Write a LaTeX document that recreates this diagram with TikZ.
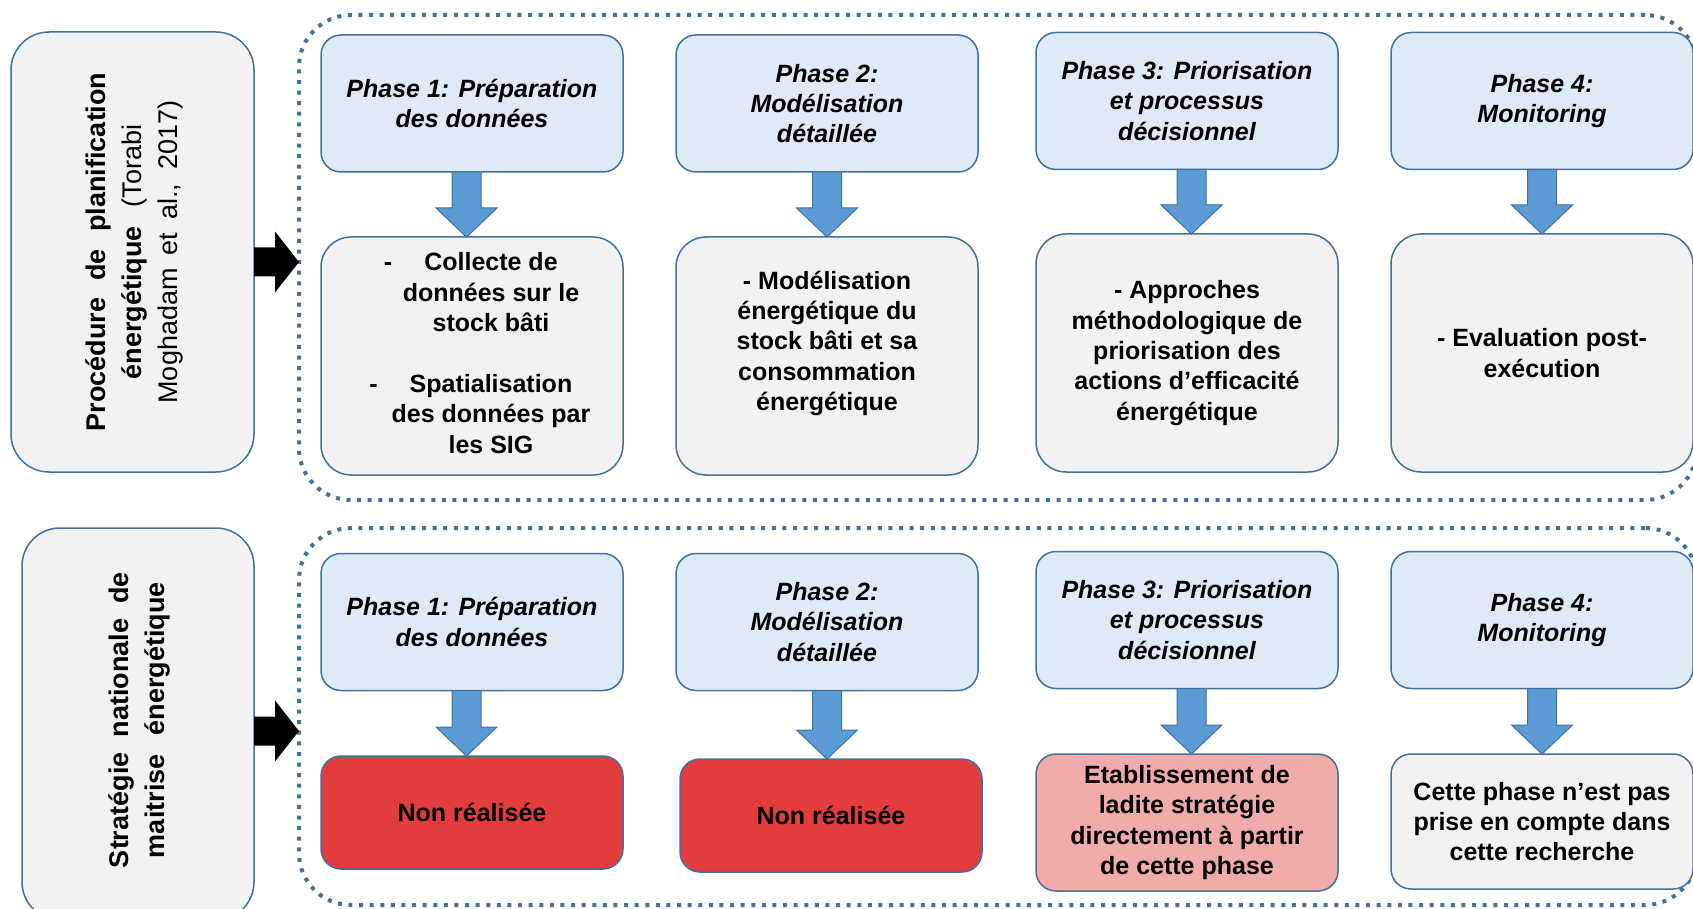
\documentclass[tikz,border=0pt]{standalone}
\usepackage{fontspec}
\setmainfont{Liberation Sans}
\usetikzlibrary{calc}

\definecolor{edgeblue}{HTML}{41719C}
\definecolor{hdrfill}{HTML}{DEEBF7}
\definecolor{greyfill}{HTML}{F2F2F2}
\definecolor{arrowblue}{HTML}{5B9BD5}
\definecolor{notdone}{HTML}{E33C3C}
\definecolor{partdone}{HTML}{F1ABAB}

\tikzset{
  boxbase/.style={draw=edgeblue, line width=0.75pt, outer sep=0pt, inner sep=0pt,
    align=center, text=black, font=\fontsize{12.5pt}{15.2pt}\selectfont\bfseries},
  phasebox/.style={boxbase, fill=hdrfill, rounded corners=10pt,
    minimum width=151pt, minimum height=68.5pt,
    font=\fontsize{12.5pt}{15.2pt}\selectfont\bfseries\itshape},
  detailbox/.style={boxbase, fill=greyfill, rounded corners=15pt,
    minimum width=151pt, minimum height=119pt},
  outcomebox/.style={boxbase, rounded corners=10pt, minimum width=151pt},
  sidebox/.style={draw=edgeblue, line width=0.75pt, outer sep=0pt, fill=greyfill,
    rounded corners=19pt},
  sidelabel/.style={rotate=90, align=center, inner sep=0pt, text=black,
    font=\fontsize{13.5pt}{18pt}\selectfont},
  group/.style={draw=edgeblue, line width=2pt, dash pattern=on 2pt off 3.3pt,
    rounded corners=26pt, outer sep=0pt, inner sep=0pt},
  flow/.style={fill=arrowblue, draw=edgeblue, line width=0.5pt},
  push/.style={fill=black},
}

% thick blue block arrow from the bottom of one box to the top of the next
\newcommand\flowarrow[3]{%
  \draw[flow] let \p1=([xshift=#3]#1.south), \p2=(#2.north) in
    (\x1-7.25pt,\y1) -- (\x1+7.25pt,\y1) -- (\x1+7.25pt,\y2+14.5pt)
    -- (\x1+15.25pt,\y2+14.5pt) -- (\x1,\y2) -- (\x1-15.25pt,\y2+14.5pt)
    -- (\x1-7.25pt,\y2+14.5pt) -- cycle;}

% black block arrow pointing right, at the height of a given coordinate
\newcommand\sidearrow[3]{%
  \fill[push] let \p1=(#1.east |- #3), \p2=(#2.west |- #3) in
    (\x1,\y1+7.25pt) -- (\x2-12pt,\y1+7.25pt) -- (\x2-12pt,\y1+15.25pt)
    -- (\x2,\y1) -- (\x2-12pt,\y1-15.25pt) -- (\x2-12pt,\y1-7.25pt)
    -- (\x1,\y1-7.25pt) -- cycle;}

\begin{document}
\begin{tikzpicture}[x=0.5pt, y=-0.5pt]
\useasboundingbox (0,0) rectangle (1693,909);

% dotted groups
\node[group, minimum width=699pt, minimum height=242.5pt] (topgroup) at (998,257.5) {};
\node[group, minimum width=699pt, minimum height=188.5pt] (botgroup) at (998,716.5) {};

% side captions
\node[sidebox, minimum width=121.5pt, minimum height=220pt] (proc) at (132.5,252) {};
\node[sidelabel] (proclabel) at (134,252)
  {\makebox[179.5pt][s]{\bfseries Procédure de planification}\\
   \makebox[127.5pt][s]{\bfseries énergétique \mdseries(Torabi}\\
   \makebox[151.5pt][s]{Moghadam et al., 2017)}};

\node[sidebox, minimum width=116pt, minimum height=196pt] (strat) at (138,724) {};
\node[sidelabel, font=\fontsize{13.5pt}{18pt}\selectfont\bfseries] (stratlabel) at (139.5,720)
  {\makebox[148pt][s]{Stratégie nationale de}\\
   \makebox[138pt][s]{maitrise énergétique}};

\coordinate (lvltop) at (0,262);
\coordinate (lvlbot) at (0,731);
\sidearrow{proc}{topgroup}{lvltop}
\sidearrow{strat}{botgroup}{lvlbot}

% upper row: phases of the planning procedure
\node[phasebox] (pa1) at (472,103.5) {Phase 1: Préparation\\des données};
\node[phasebox] (pa2) at (827,103.5) {Phase 2:\\Modélisation\\détaillée};
\node[phasebox] (pa3) at (1187,101) {Phase 3: Priorisation\\et processus\\décisionnel};
\node[phasebox] (pa4) at (1542,101) {Phase 4:\\Monitoring};

\node[detailbox] (da1) at (472,356)
  {\hspace*{19pt}\begin{tabular}{@{}c@{}}
     \llap{-\hspace{16pt}}Collecte de\\ données sur le\\ stock bâti\\ \\
     \llap{-\hspace{16pt}}Spatialisation\\ des données par\\ les SIG
   \end{tabular}};
\node[detailbox] (da2) at (827,356)
  {- Modélisation\\énergétique du\\stock bâti et sa\\consommation\\énergétique\\\mbox{}};
\node[detailbox] (da3) at (1187,353)
  {- Approches\\méthodologique de\\priorisation des\\actions d’efficacité\\énergétique};
\node[detailbox] (da4) at (1542,353) {- Evaluation post-\\exécution};

\flowarrow{pa1}{da1}{-2.75pt}
\flowarrow{pa2}{da2}{0pt}
\flowarrow{pa3}{da3}{2.25pt}
\flowarrow{pa4}{da4}{0pt}

% lower row: the national strategy
\node[phasebox] (pb1) at (472,622) {Phase 1: Préparation\\des données};
\node[phasebox] (pb2) at (827,622) {Phase 2:\\Modélisation\\détaillée};
\node[phasebox] (pb3) at (1187,620) {Phase 3: Priorisation\\et processus\\décisionnel};
\node[phasebox] (pb4) at (1542,620) {Phase 4:\\Monitoring};

\node[outcomebox, fill=notdone, minimum height=56.5pt] (db1) at (472,812.5) {Non réalisée};
\node[outcomebox, fill=notdone, minimum height=56.5pt] (db2) at (831,815.5) {Non réalisée};
\node[outcomebox, fill=partdone, minimum height=68.5pt] (db3) at (1187,822.5)
  {Etablissement de\\ladite stratégie\\directement à partir\\de cette phase};
\node[outcomebox, fill=greyfill, minimum height=67.5pt] (db4) at (1542,821.5)
  {Cette phase n’est pas\\prise en compte dans\\cette recherche};

\flowarrow{pb1}{db1}{-2.75pt}
\flowarrow{pb2}{db2}{0pt}
\flowarrow{pb3}{db3}{2.25pt}
\flowarrow{pb4}{db4}{0pt}
\end{tikzpicture}
\end{document}
